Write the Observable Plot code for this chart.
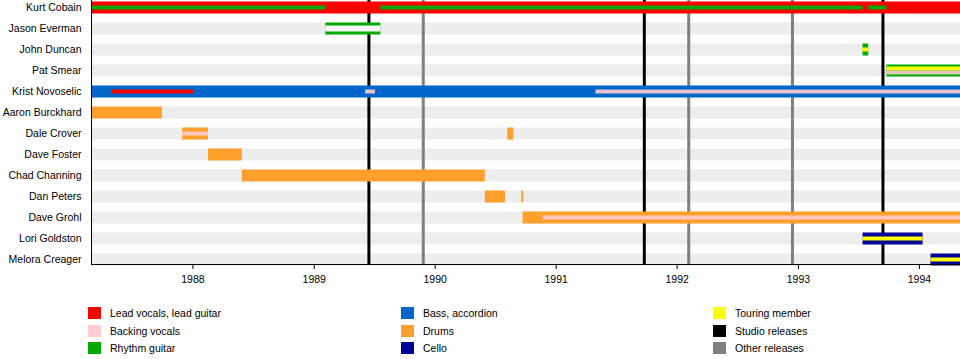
<!DOCTYPE html>
<html><head><meta charset="utf-8">
<script src="https://cdn.jsdelivr.net/npm/d3@7"></script>
<script src="https://cdn.jsdelivr.net/npm/@observablehq/plot@0.6"></script>
<style>
body{margin:0;background:#fff;font-family:'Liberation Sans',Arial,sans-serif;}
#chart{width:960px;height:290px;}
#legend{position:relative;width:960px;height:69px;font-size:10.5px;color:#000;}
.item{position:absolute;height:12px;line-height:12px;white-space:nowrap;}
.sw{position:absolute;left:0;top:0;width:13px;height:12px;}
.lb{position:absolute;left:22px;top:0;}
</style></head><body>
<div id="chart"></div><div id="legend"></div>
<script>
const periodStart = "1987-03-01";
const periodEnd = "1994-05-05";

const members = ["Kurt Cobain","Jason Everman","John Duncan","Pat Smear","Krist Novoselic","Aaron Burckhard","Dale Crover","Dave Foster","Chad Channing","Dan Peters","Dave Grohl","Lori Goldston","Melora Creager"];

// main (full-width) bars: [member, from, till, role]
const mainBars = [
  ["Kurt Cobain", periodStart, periodEnd, "Lead vocals, lead guitar"],
  ["Jason Everman", "1989-02-05", "1989-07-21", "Rhythm guitar"],
  ["John Duncan", "1993-07-15", "1993-08-01", "Rhythm guitar"],
  ["Pat Smear", "1993-09-25", periodEnd, "Rhythm guitar"],
  ["Krist Novoselic", periodStart, periodEnd, "Bass, accordion"],
  ["Aaron Burckhard", periodStart, "1987-10-01", "Drums"],
  ["Dale Crover", "1987-12-01", "1988-02-17", "Drums"],
  ["Dale Crover", "1990-08-08", "1990-08-26", "Drums"],
  ["Dave Foster", "1988-02-17", "1988-05-29", "Drums"],
  ["Chad Channing", "1988-05-29", "1990-06-01", "Drums"],
  ["Dan Peters", "1990-06-01", "1990-08-01", "Drums"],
  ["Dan Peters", "1990-09-19", "1990-09-25", "Drums"],
  ["Dave Grohl", "1990-09-23", periodEnd, "Drums"],
  ["Lori Goldston", "1993-07-15", "1994-01-12", "Cello"],
  ["Melora Creager", "1994-02-05", periodEnd, "Cello"]
];

// secondary (thin) bars: [member, from, till, role]
const secondaryBars = [
  ["Kurt Cobain", periodStart, "1989-02-05", "Rhythm guitar"],
  ["Kurt Cobain", "1989-07-21", "1993-07-15", "Rhythm guitar"],
  ["Kurt Cobain", "1993-08-01", "1993-09-25", "Rhythm guitar"],
  ["Jason Everman", "1989-02-05", "1989-07-21", "Gap"],
  ["John Duncan", "1993-07-15", "1993-08-01", "Touring member"],
  ["Pat Smear", "1993-09-25", periodEnd, "Touring member"],
  ["Pat Smear", "1993-09-25", periodEnd, "Backing vocals"],
  ["Krist Novoselic", "1987-05-01", "1988-01-05", "Lead vocals, lead guitar"],
  ["Krist Novoselic", "1989-06-05", "1989-07-05", "Backing vocals"],
  ["Krist Novoselic", "1991-05-01", periodEnd, "Backing vocals"],
  ["Dale Crover", "1987-12-01", "1988-02-17", "Backing vocals"],
  ["Dave Grohl", "1990-11-23", periodEnd, "Backing vocals"],
  ["Lori Goldston", "1993-07-15", "1994-01-12", "Touring member"],
  ["Melora Creager", "1994-02-05", periodEnd, "Touring member"]
];

const studioReleases = ["1989-06-15", "1991-09-24", "1993-09-13"];
const otherReleases = ["1989-11-26", "1992-02-05", "1992-12-14"];

const yearTicks = [1988, 1989, 1990, 1991, 1992, 1993, 1994];

const legendLabels = ["Lead vocals, lead guitar","Backing vocals","Rhythm guitar","Bass, accordion","Drums","Cello","Touring member","Studio releases","Other releases"];

// styles
const roleColor = {
  "Lead vocals, lead guitar": "#ff0000",
  "Backing vocals": "#ffccd2",
  "Rhythm guitar": "#00aa00",
  "Bass, accordion": "#0066cc",
  "Drums": "#ffa02c",
  "Cello": "#000099",
  "Touring member": "#ffff00",
  "Studio releases": "#000000",
  "Other releases": "#808080",
  "Gap": "#fafafa"
};

const D = s => new Date(s + "T00:00:00Z");
const toRow = ([member, from, till, role]) => ({member, from: D(from), till: D(till), role});
const main = mainBars.map(toRow);
const sec = secondaryBars.map(toRow);
const bg = members.map(m => ({member: m, from: D(periodStart), till: D(periodEnd)}));

const isPatT = d => d.member === "Pat Smear" && d.role === "Touring member";
const isPatB = d => d.member === "Pat Smear" && d.role === "Backing vocals";
const isGap = d => d.role === "Gap";
const isCentered = d => !isPatT(d) && !isPatB(d) && !isGap(d);
const fillOf = d => roleColor[d.role];

const chart = Plot.plot({
  width: 960,
  height: 290,
  marginLeft: 91,
  marginRight: 0,
  marginTop: 0,
  marginBottom: 26,
  style: {fontFamily: "'Liberation Sans', Arial, sans-serif", fontSize: "10.5px", background: "white", color: "black"},
  x: {type: "utc", domain: [D(periodStart), D(periodEnd)]},
  y: {type: "band", domain: members, range: [-3.5, 269.5], padding: 0},
  marks: [
    Plot.barX(bg, {x1: "from", x2: "till", y: "member", fill: "#ededed", insetTop: 4.5, insetBottom: 4.5}),
    Plot.ruleX(otherReleases.map(D), {x: d => d, stroke: roleColor["Other releases"], strokeWidth: 3}),
    Plot.ruleX(studioReleases.map(D), {x: d => d, stroke: roleColor["Studio releases"], strokeWidth: 3}),
    Plot.barX(main, {x1: "from", x2: "till", y: "member", fill: fillOf, insetTop: 4.5, insetBottom: 4.5}),
    Plot.barX(sec, {filter: isCentered, x1: "from", x2: "till", y: "member", fill: fillOf,
      fillOpacity: d => d.role === "Backing vocals" ? 0.9 : 1, insetTop: 8.5, insetBottom: 8.5}),
    Plot.barX(sec, {filter: isGap, x1: "from", x2: "till", y: "member", fill: fillOf, insetTop: 7.5, insetBottom: 7.5}),
    Plot.barX(sec, {filter: isPatT, x1: "from", x2: "till", y: "member", fill: fillOf, insetTop: 6.5, insetBottom: 10.5}),
    Plot.barX(sec, {filter: isPatB, x1: "from", x2: "till", y: "member", fill: fillOf, fillOpacity: 0.9, insetTop: 10.5, insetBottom: 6.5}),
    Plot.axisY({tickSize: 0, tickPadding: 10, label: null, fill: "black"}),
    Plot.axisX({ticks: yearTicks.map(y => new Date(Date.UTC(y, 0, 1))), tickFormat: d => String(d.getUTCFullYear()),
      tickSize: 5, tickPadding: 6, label: null, stroke: "black", fill: "black"}),
    Plot.frame({anchor: "left", stroke: "black"}),
    Plot.frame({anchor: "bottom", stroke: "black"})
  ]
});
document.getElementById("chart").appendChild(chart);

// legend (three columns)
const legend = document.getElementById("legend");
const colLeft = [88, 401, 713];
const rowTop = [17.3, 34.7, 52.3];
legendLabels.forEach((lab, i) => {
  const c = Math.floor(i / 3), r = i % 3;
  const it = document.createElement("div");
  it.className = "item";
  it.style.left = colLeft[c] + "px";
  it.style.top = rowTop[r] + "px";
  const sw = document.createElement("div");
  sw.className = "sw";
  sw.style.background = roleColor[lab];
  const lb = document.createElement("div");
  lb.className = "lb";
  lb.textContent = lab;
  it.appendChild(sw); it.appendChild(lb);
  legend.appendChild(it);
});
</script>
</body></html>
